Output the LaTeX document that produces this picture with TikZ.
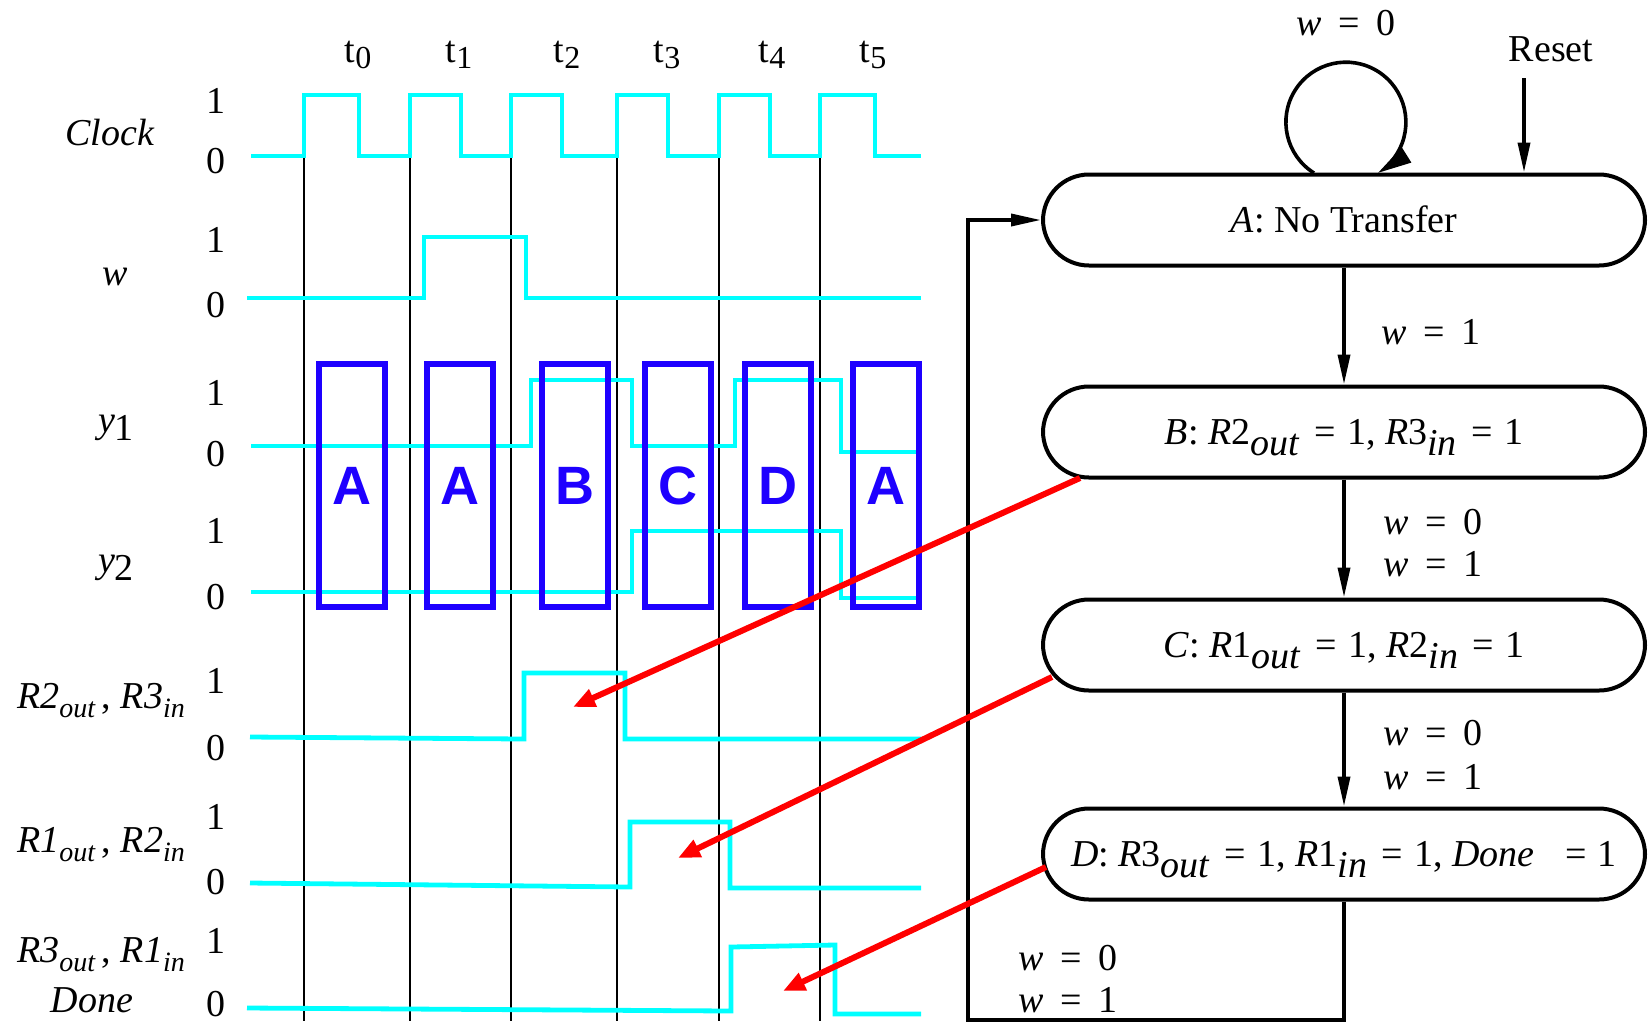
\documentclass[tikz,border=0pt]{standalone}
\usepackage{fontspec}
\usepackage{graphicx}
\setmainfont{Liberation Serif}
\newfontfamily\sansbold{Liberation Sans}
\usetikzlibrary{arrows.meta}
\definecolor{cyanw}{RGB}{0,255,255}
\definecolor{boxblue}{RGB}{30,0,255}
\definecolor{redarr}{RGB}{255,0,0}
\newcommand\mfs{\fontsize{19}{22}\selectfont}
\newcommand\llo[1]{\raisebox{-0.24em}{\fontsize{14}{14}\selectfont #1}}
\newcommand\slo[1]{\raisebox{-0.3em}{\fontsize{19}{19}\selectfont #1}}
\newcommand\tsub[1]{t\raisebox{-3pt}{\fontsize{16}{16}\selectfont #1}}
\newcommand\eqs{\hspace{0.45em}=\hspace{0.45em}}
\newcommand\seq{\hspace{0.38em}=\hspace{0.3em}}
\tikzset{
  sig/.style={draw=cyanw, line width=2.4pt, line join=miter},
  gridl/.style={draw=black, line width=0.9pt},
  blk/.style={draw=boxblue, line width=2.6pt, minimum width=33pt, minimum height=121.5pt,
    inner sep=0pt, text=boxblue, font=\sansbold\bfseries\fontsize{27}{27}\selectfont},
  state/.style={draw=black, line width=2pt, rounded corners=23pt, minimum width=301pt,
    minimum height=45.5pt, inner sep=0pt, text height=12.5pt, text depth=0pt, font=\mfs},
  tr/.style={draw=black, line width=1.8pt, -{Triangle[length=15pt,width=6pt]}},
  rarr/.style={draw=redarr, line width=3pt, -{Triangle[length=11pt,width=9pt]}},
  lbl/.style={font=\mfs, inner sep=0pt},
  dig/.style={font=\mfs, inner sep=0pt, anchor=base},
}
\begin{document}
\begin{tikzpicture}[x=0.5pt,y=-0.5pt]
\useasboundingbox (0,0) rectangle (1648,1024);
\fill[white] (0,0) rectangle (1648,1024);

% time labels
\node[lbl, anchor=base] (t0) at (358,62) {\tsub{0}};
\node[lbl, anchor=base] (t1) at (459,62) {\tsub{1}};
\node[lbl, anchor=base] (t2) at (567,62) {\tsub{2}};
\node[lbl, anchor=base] (t3) at (667,62) {\tsub{3}};
\node[lbl, anchor=base] (t4) at (772,62) {\tsub{4}};
\node[lbl, anchor=base] (t5) at (873,62) {\tsub{5}};

% vertical grid lines
\foreach \x/\n in {304/g0,410/g1,511/g2,617/g3,719/g4,820/g5}{
  \coordinate (\n a) at (\x,156);
  \coordinate (\n b) at (\x,1021);
  \draw[gridl] (\n a) -- (\n b);
}

% signal names
\node[lbl, anchor=base] (nclock) at (110,145) {\textit{Clock}};
\node[lbl, anchor=base] (nw) at (115,285) {\textit{w}};
\node[lbl, anchor=base] (ny1) at (116,432) {\textit{y}\raisebox{-4pt}{1}};
\node[lbl, anchor=base] (ny2) at (116,572) {\textit{y}\raisebox{-4pt}{2}};
\node[lbl, anchor=base] (nr23) at (101,708) {\textit{R2}\llo{\textit{out}}\,, \textit{R3}\llo{\textit{in}}};
\node[lbl, anchor=base] (nr12) at (101,852) {\textit{R1}\llo{\textit{out}}\,, \textit{R2}\llo{\textit{in}}};
\node[lbl, anchor=base] (nr31) at (101,962) {\textit{R3}\llo{\textit{out}}\,, \textit{R1}\llo{\textit{in}}};
\node[lbl, anchor=base] (ndone) at (92,1012) {\textit{Done}};

% 1/0 levels
\foreach \a/\b/\n in {113/173/c,252/317/w,405/466/ya,543/609/yb,693/760/ra,829/894/rb,953/1016/rc}{
  \node[dig] (one\n) at (216,\a) {1};
  \node[dig] (zero\n) at (216,\b) {0};
}

% waveforms
\draw[sig] (251,156) -- (304,156) -- (304,95) -- (359,95) -- (359,156) -- (410,156) -- (410,95)
  -- (461,95) -- (461,156) -- (511,156) -- (511,95) -- (562,95) -- (562,156) -- (617,156)
  -- (617,95) -- (668,95) -- (668,156) -- (719,156) -- (719,95) -- (770,95) -- (770,156)
  -- (820,156) -- (820,95) -- (875,95) -- (875,156) -- (921,156);
\draw[sig] (247,298) -- (424,298) -- (424,237) -- (526,237) -- (526,298) -- (921,298);
\draw[sig] (251,446) -- (531,446) -- (531,380) -- (632,380) -- (632,446) -- (735,446)
  -- (735,380) -- (841,380) -- (841,452) -- (921,452);
\draw[sig] (251,592) -- (632,592) -- (632,531) -- (841,531) -- (841,598) -- (921,598);
\draw[sig] (250,737) -- (524,739) -- (524,673) -- (625,673) -- (625,739) -- (921,739);
\draw[sig] (250,883) -- (630,887) -- (630,822) -- (730,822) -- (730,888) -- (921,888);
\draw[sig] (247,1008) -- (731,1011) -- (731,947) -- (835,945) -- (835,1014) -- (921,1014);

% blue state boxes
\node[blk] (bx1) at (352,485.5) {A};
\node[blk] (bx2) at (460,485.5) {A};
\node[blk] (bx3) at (575,485.5) {B};
\node[blk] (bx4) at (678,485.5) {C};
\node[blk] (bx5) at (778,485.5) {D};
\node[blk] (bx6) at (886,485.5) {A};

% state diagram
\node[state] (A) at (1344,220) {\textit{A}: No Transfer};
\node[state] (B) at (1344,432) {\textit{B}: \textit{R}2\slo{\textit{out}}\seq 1, \textit{R}3\slo{\textit{in}}\seq 1};
\node[state] (C) at (1344,645) {\textit{C}: \textit{R}1\slo{\textit{out}}\seq 1, \textit{R}2\slo{\textit{in}}\seq 1};
\node[state] (D) at (1344,854) {\textit{D}: \textit{R}3\slo{\textit{out}}\seq 1, \textit{R}1\slo{\textit{in}}\seq 1, \textit{Done}\hspace{0.8em}=\hspace{0.3em}1};

\node[lbl] (lw0) at (1346,23) {\textit{w}\eqs 0};
\node[lbl] (reset) at (1551,49) {Reset};
\node[lbl] (lab) at (1431,332) {\textit{w}\eqs 1};
\node[lbl] (lbc0) at (1433,522) {\textit{w}\eqs 0};
\node[lbl] (lbc1) at (1433,564) {\textit{w}\eqs 1};
\node[lbl] (lcd0) at (1433,733) {\textit{w}\eqs 0};
\node[lbl] (lcd1) at (1433,777) {\textit{w}\eqs 1};
\node[lbl] (lda0) at (1068,958) {\textit{w}\eqs 0};
\node[lbl] (lda1) at (1068,1000) {\textit{w}\eqs 1};

\coordinate (rs) at (1524,78);
\draw[tr] (rs) -- (rs |- A.north);
\coordinate (lpa) at (1314,173);
\draw[tr, -{Triangle[length=17pt,width=8.5pt]}] (lpa) arc[start angle=122.1, end angle=417.9, radius=60];
\draw[tr] (A) -- (B);
\draw[tr] (B) -- (C);
\draw[tr] (C) -- (D);
\coordinate (fb1) at (1344,1020);
\coordinate (fb2) at (968,1020);
\coordinate (fb3) at (968,220);
\draw[tr] (D.south) -- (fb1) -- (fb2) -- (fb3) -- (A.west);

% red arrows
\coordinate (rb) at (1080,478);
\coordinate (rc) at (1052,677);
\coordinate (rd) at (1046,867);
\coordinate (eb) at (573,707);
\coordinate (ec) at (678,858);
\coordinate (ed) at (783,991);
\draw[rarr] (rb) -- (eb);
\draw[rarr] (rc) -- (ec);
\draw[rarr] (rd) -- (ed);
\end{tikzpicture}
\end{document}
